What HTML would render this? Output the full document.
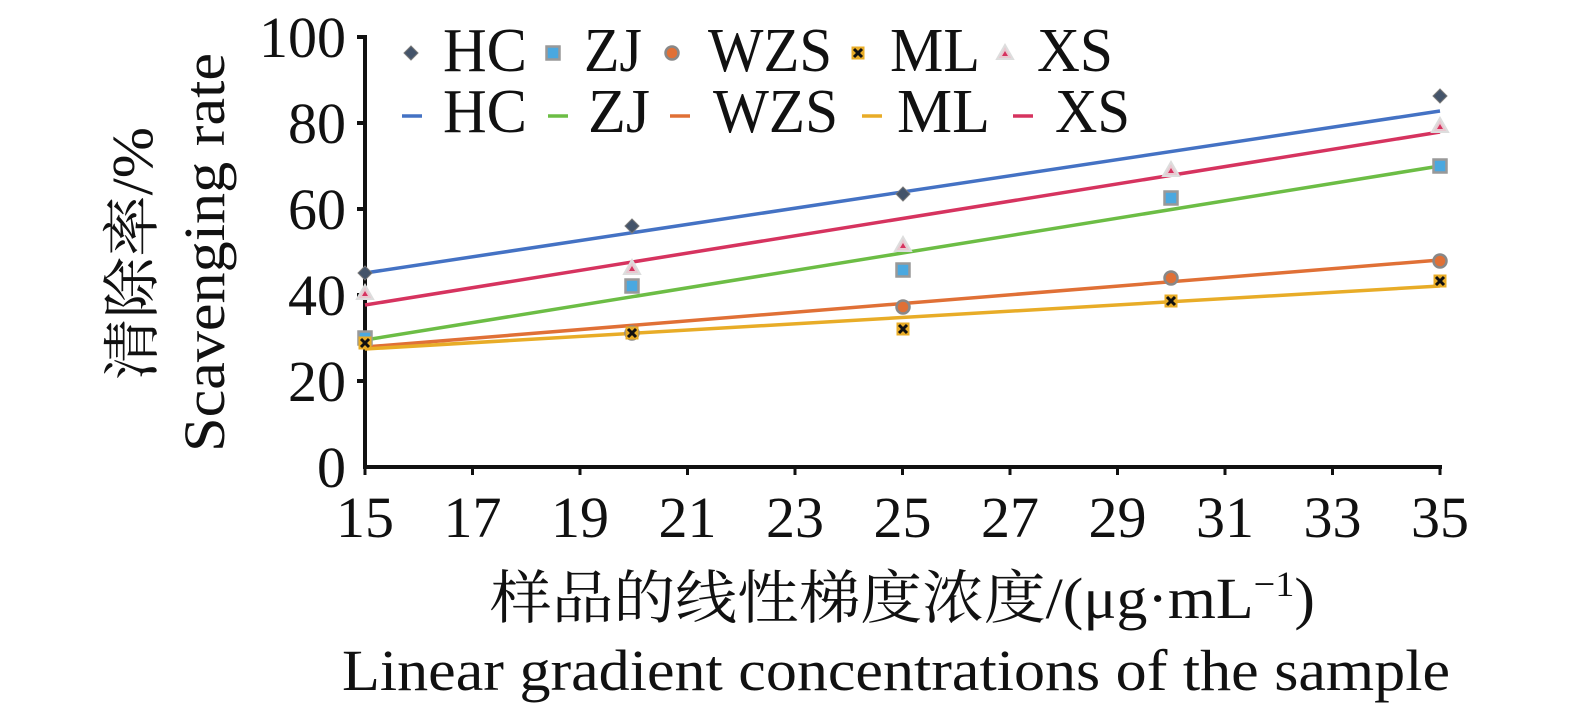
<!DOCTYPE html>
<html><head><meta charset="utf-8"><style>
body{margin:0;background:#fff}
svg text{font-family:"Liberation Serif","Noto Serif CJK SC",serif;fill:#111}
</style></head><body>
<svg width="1575" height="715" viewBox="0 0 1575 715">
<g stroke="#111" stroke-width="4">
<line x1="365" y1="35" x2="365" y2="469"/>
<line x1="363" y1="467" x2="1442" y2="467"/>
<line x1="357" y1="37" x2="365" y2="37"/><line x1="357" y1="123" x2="365" y2="123"/><line x1="357" y1="209" x2="365" y2="209"/><line x1="357" y1="295" x2="365" y2="295"/><line x1="357" y1="381" x2="365" y2="381"/>
</g>
<g stroke="#111" stroke-width="3">
<line x1="365" y1="467" x2="365" y2="475"/><line x1="472.5" y1="467" x2="472.5" y2="475"/><line x1="580" y1="467" x2="580" y2="475"/><line x1="687.5" y1="467" x2="687.5" y2="475"/><line x1="795" y1="467" x2="795" y2="475"/><line x1="902.5" y1="467" x2="902.5" y2="475"/><line x1="1010" y1="467" x2="1010" y2="475"/><line x1="1117.5" y1="467" x2="1117.5" y2="475"/><line x1="1225" y1="467" x2="1225" y2="475"/><line x1="1332.5" y1="467" x2="1332.5" y2="475"/><line x1="1440" y1="467" x2="1440" y2="475"/>
</g>
<g font-size="58" text-anchor="end">
<text x="346" y="57">100</text><text x="346" y="143">80</text><text x="346" y="229">60</text><text x="346" y="315">40</text><text x="346" y="401">20</text><text x="346" y="487">0</text>
</g>
<g font-size="58" text-anchor="middle">
<text x="365" y="537">15</text><text x="472.5" y="537">17</text><text x="580" y="537">19</text><text x="687.5" y="537">21</text><text x="795" y="537">23</text><text x="902.5" y="537">25</text><text x="1010" y="537">27</text><text x="1117.5" y="537">29</text><text x="1225" y="537">31</text><text x="1332.5" y="537">33</text><text x="1440" y="537">35</text>
</g>
<g font-size="58">
<text x="490" y="618" textLength="825" lengthAdjust="spacingAndGlyphs">样品的线性梯度浓度/(μg·mL<tspan font-size="36" dy="-22">−1</tspan><tspan dy="22">)</tspan></text>
<text x="342" y="690" textLength="1108" lengthAdjust="spacingAndGlyphs">Linear gradient concentrations of the sample</text>
<text transform="translate(152,380) rotate(-90)" textLength="253" lengthAdjust="spacingAndGlyphs">清除率/%</text>
<text transform="translate(224,452) rotate(-90)" textLength="399" lengthAdjust="spacingAndGlyphs">Scavenging rate</text>
</g>
<g stroke-width="3.5" fill="none">
<line x1="365" y1="273" x2="1440" y2="111" stroke="#4472c4"/>
<line x1="365" y1="305" x2="1440" y2="132" stroke="#d6335f"/>
<line x1="365" y1="340" x2="1440" y2="166" stroke="#6cbd45"/>
<line x1="365" y1="347" x2="1440" y2="260" stroke="#e07036"/>
<line x1="365" y1="349" x2="1440" y2="286" stroke="#e8ac27"/>
</g>
<defs>
<g id="hc"><path d="M0,-7 L7,0 0,7 -7,0Z" fill="#44546a" stroke="#777" stroke-width="1"/></g>
<g id="zj"><rect x="-6.5" y="-6.5" width="13" height="13" fill="#4aa8e0" stroke="#999" stroke-width="2.5"/></g>
<g id="wzs"><circle r="6.5" fill="#e07036" stroke="#888" stroke-width="2.5"/></g>
<g id="ml"><rect x="-6.5" y="-6.5" width="13" height="13" fill="#e8ac27"/><path d="M-4,-4L4,4M4,-4L-4,4" stroke="#111" stroke-width="3"/></g>
<g id="xs"><path d="M0,-8 L8,6 -8,6Z" fill="#e8c8d0" stroke="#ddd" stroke-width="2"/><path d="M0,-2 L3,3 -3,3Z" fill="#d6335f"/></g>
</defs>
<use href="#hc" x="365" y="273"/><use href="#hc" x="632" y="226"/><use href="#hc" x="903" y="194"/><use href="#hc" x="1440" y="96"/>
<use href="#xs" x="365" y="293"/><use href="#xs" x="632" y="268"/><use href="#xs" x="903" y="245"/><use href="#xs" x="1171" y="170"/><use href="#xs" x="1440" y="126"/>
<use href="#zj" x="365" y="338"/><use href="#zj" x="632" y="286"/><use href="#zj" x="903" y="270"/><use href="#zj" x="1171" y="198"/><use href="#zj" x="1440" y="166"/>
<use href="#wzs" x="632" y="333"/><use href="#wzs" x="903" y="307"/><use href="#wzs" x="1171" y="278"/><use href="#wzs" x="1440" y="261"/>
<use href="#ml" x="365" y="343"/><use href="#ml" x="632" y="333"/><use href="#ml" x="903" y="329"/><use href="#ml" x="1171" y="301"/><use href="#ml" x="1440" y="281"/>
<use href="#hc" x="411" y="53"/><use href="#zj" x="553" y="53"/><use href="#wzs" x="672" y="53"/><use href="#ml" x="858" y="53"/><use href="#xs" x="1005" y="53"/>
<g font-size="62">
<text x="443" y="71" textLength="84" lengthAdjust="spacingAndGlyphs">HC</text><text x="584" y="71" textLength="58" lengthAdjust="spacingAndGlyphs">ZJ</text><text x="708" y="71" textLength="124" lengthAdjust="spacingAndGlyphs">WZS</text><text x="890" y="71" textLength="90" lengthAdjust="spacingAndGlyphs">ML</text><text x="1037" y="71" textLength="76" lengthAdjust="spacingAndGlyphs">XS</text>
<text x="443" y="132" textLength="84" lengthAdjust="spacingAndGlyphs">HC</text><text x="588" y="132" textLength="62" lengthAdjust="spacingAndGlyphs">ZJ</text><text x="713" y="132" textLength="125" lengthAdjust="spacingAndGlyphs">WZS</text><text x="897" y="132" textLength="93" lengthAdjust="spacingAndGlyphs">ML</text><text x="1055" y="132" textLength="75" lengthAdjust="spacingAndGlyphs">XS</text>
</g>
<g stroke-width="3.5">
<line x1="402" y1="116" x2="422" y2="116" stroke="#4472c4"/>
<line x1="548" y1="116" x2="568" y2="116" stroke="#6cbd45"/>
<line x1="670" y1="116" x2="690" y2="116" stroke="#e07036"/>
<line x1="862" y1="116" x2="882" y2="116" stroke="#e8ac27"/>
<line x1="1013" y1="116" x2="1033" y2="116" stroke="#d6335f"/>
</g>
</svg>
</body></html>
